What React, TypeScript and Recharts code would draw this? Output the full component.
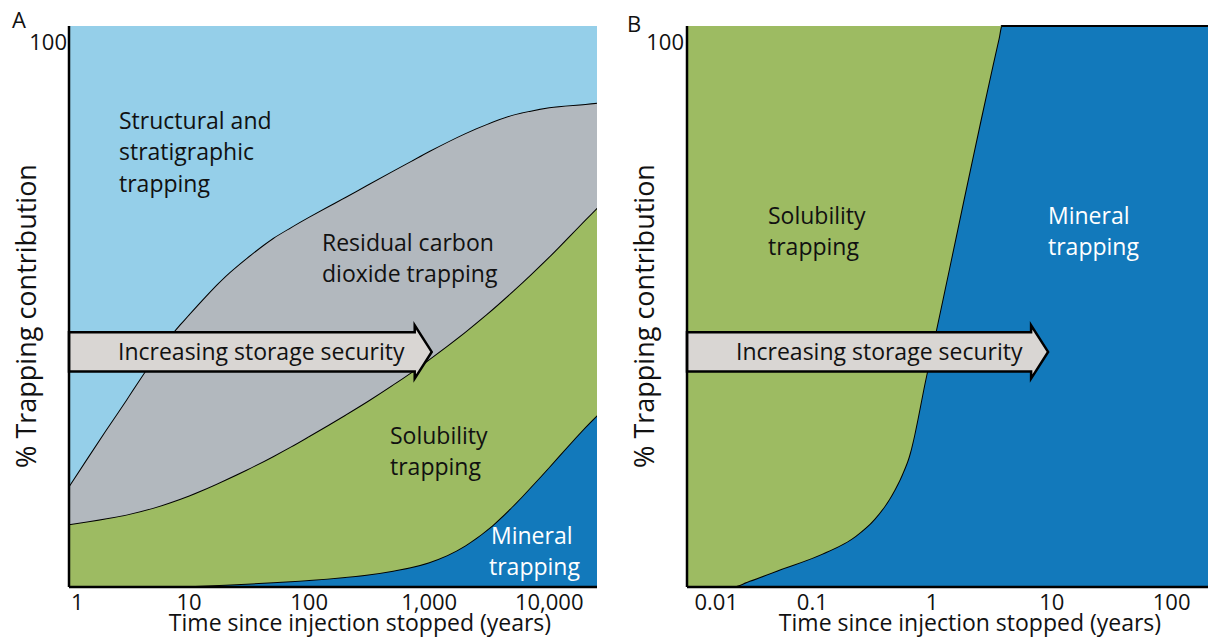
import React from 'react';
import { AreaChart, Area, XAxis, YAxis, ReferenceArea } from 'recharts';

const FONT = '"Open Sans", "Noto Sans", sans-serif';

// ---------- Panel A : time (years) and % contribution of each trapping mechanism ----------
const timeA = [1, 2, 3, 5, 7, 10, 20, 30, 50, 70, 100, 200, 300, 500, 700, 1000, 2000, 3000, 5000, 7000, 10000, 20000, 25000];
const mineralA = [0, 0, 0, 0, 0.03, 0.14, 0.41, 0.59, 0.85, 1.04, 1.26, 1.8, 2.2, 2.9, 3.5, 4.4, 7.4, 10.1, 14.5, 17.8, 21.4, 28.5, 30.6];
const solubilityA = [11.2, 12.2, 12.9, 14.1, 15.07, 16.16, 18.69, 20.31, 22.45, 23.96, 25.64, 28.9, 30.8, 33.2, 34.7, 36.2, 38.1, 38.5, 38.3, 37.9, 37.5, 37.0, 37.0];
const residualA = [6.8, 15.6, 20.5, 26.4, 29.7, 32.3, 36.3, 37.7, 38.9, 39.1, 39.1, 38.8, 38.6, 38.1, 37.7, 37.1, 35.4, 33.9, 31.4, 29.2, 26.6, 20.6, 18.7];
const structuralA = [82.0, 72.2, 66.6, 59.5, 55.2, 51.4, 44.6, 41.4, 37.8, 35.9, 34.0, 30.5, 28.4, 25.8, 24.1, 22.3, 19.1, 17.5, 15.8, 15.1, 14.5, 13.9, 13.7];
const ticksA = [1, 10, 100, 1000, 10000];
const tickLabelsA = ['1', '10', '100', '1,000', '10,000'];
const domainA: [number, number] = [1, 25000];

// ---------- Panel B ----------
const timeB = [0.009, 0.021, 0.03, 0.055, 0.12, 0.23, 0.33, 0.46, 0.56, 0.64, 0.89, 1.06, 1.27, 3.6, 3.8, 230];
const mineralB = [0, 0, 1.1, 3.2, 5.9, 9.1, 12.1, 16.4, 20.0, 23.2, 37.5, 45.0, 52.9, 97.8, 100, 100];
const solubilityB = [100, 100, 98.9, 96.8, 94.1, 90.9, 87.9, 83.6, 80.0, 76.8, 62.5, 55.0, 47.1, 2.2, 0, 0];
const ticksB = [0.01, 0.1, 1, 10, 100];
const tickLabelsB = ['0.01', '0.1', '1', '10', '100'];
const domainB: [number, number] = [0.009, 230];

// arrow annotation (in data units)
const arrowLow = 38.4;
const arrowHigh = 45.4;
const arrowTipA = 1050;
const arrowTipB = 9.3;

const C_STRUCT = '#95CFE9';
const C_RESID = '#B2B8BE';
const C_SOLUB = '#9DBB62';
const C_MINERAL = '#1279BB';
const C_ARROW = '#D9D6D3';
const INK = '#111';

const dataA = timeA.map((t, i) => ({
  t,
  mineral: mineralA[i],
  solubility: solubilityA[i],
  residual: residualA[i],
  structural: structuralA[i],
}));
const dataB = timeB.map((t, i) => ({ t, mineral: mineralB[i], solubility: solubilityB[i] }));

const makeXTick = (values: number[], labels: string[]) => (props: any) => {
  const { x, payload } = props;
  const i = values.indexOf(payload.value);
  const first = i === 0;
  return (
    <text
      x={first ? x + 2 : x}
      y={610}
      textAnchor={first ? 'start' : 'middle'}
      fontSize={22}
      fontFamily={FONT}
      fill={INK}
    >
      {labels[i]}
    </text>
  );
};

const makeYTick = (right: number) => (props: any) => {
  const { payload } = props;
  return (
    <text x={right} y={50} textAnchor="end" fontSize={22} fontFamily={FONT} fill={INK}>
      {payload.value}
    </text>
  );
};

const arrowShape = (props: any) => {
  const { x, y, width, height } = props;
  const head = 17;
  const over = 7;
  const bx = x + width - head;
  const pts = [
    [x, y],
    [bx, y],
    [bx, y - over],
    [x + width, y + height / 2],
    [bx, y + height + over],
    [bx, y + height],
    [x, y + height],
  ]
    .map((p) => p.join(','))
    .join(' ');
  return (
    <g>
      <polygon points={pts} fill={C_ARROW} stroke="#000" strokeWidth={2.5} strokeLinejoin="miter" />
      <text x={x + 49} y={y + height / 2 + 8} fontSize={23} fontFamily={FONT} fill={INK}>
        Increasing storage security
      </text>
    </g>
  );
};

const axisLine = { stroke: '#000', strokeWidth: 2.5 };

function PanelA() {
  return (
    <AreaChart width={604} height={637} data={dataA} margin={{ top: 26, right: 7, bottom: 0, left: 0 }}>
      <Area type="monotone" dataKey="mineral" stackId="s" fill={C_MINERAL} fillOpacity={1} stroke="#000" strokeWidth={2} isAnimationActive={false} dot={false} activeDot={false} />
      <Area type="monotone" dataKey="solubility" stackId="s" fill={C_SOLUB} fillOpacity={1} stroke="#000" strokeWidth={2} isAnimationActive={false} dot={false} activeDot={false} />
      <Area type="monotone" dataKey="residual" stackId="s" fill={C_RESID} fillOpacity={1} stroke="#000" strokeWidth={2} isAnimationActive={false} dot={false} activeDot={false} />
      <Area type="monotone" dataKey="structural" stackId="s" fill={C_STRUCT} fillOpacity={1} stroke="none" isAnimationActive={false} dot={false} activeDot={false} />
      <XAxis dataKey="t" type="number" scale="log" domain={domainA} allowDataOverflow ticks={ticksA} interval={0} tick={makeXTick(ticksA, tickLabelsA)} tickLine={false} axisLine={axisLine} height={50} />
      <XAxis xAxisId="top" orientation="top" dataKey="t" type="number" scale="log" domain={domainA} allowDataOverflow tick={false} tickLine={false} axisLine={axisLine} height={0} />
      <YAxis type="number" domain={[0, 100]} ticks={[100]} interval={0} tick={makeYTick(67)} tickLine={false} axisLine={axisLine} width={69} />
      <YAxis yAxisId="right" orientation="right" type="number" domain={[0, 100]} tick={false} tickLine={false} axisLine={axisLine} width={0} />
      <ReferenceArea x1={domainA[0]} x2={arrowTipA} y1={arrowLow} y2={arrowHigh} shape={arrowShape} zIndex={450} />
    </AreaChart>
  );
}

function PanelB() {
  return (
    <AreaChart width={620} height={637} data={dataB} margin={{ top: 26, right: 9, bottom: 0, left: 0 }}>
      <Area type="monotone" dataKey="mineral" stackId="s" fill={C_MINERAL} fillOpacity={1} stroke="#000" strokeWidth={2} isAnimationActive={false} dot={false} activeDot={false} />
      <Area type="monotone" dataKey="solubility" stackId="s" fill={C_SOLUB} fillOpacity={1} stroke="none" isAnimationActive={false} dot={false} activeDot={false} />
      <XAxis dataKey="t" type="number" scale="log" domain={domainB} allowDataOverflow ticks={ticksB} interval={0} tick={makeXTick(ticksB, tickLabelsB)} tickLine={false} axisLine={axisLine} height={50} />
      <XAxis xAxisId="top" orientation="top" dataKey="t" type="number" scale="log" domain={domainB} allowDataOverflow tick={false} tickLine={false} axisLine={axisLine} height={0} />
      <YAxis type="number" domain={[0, 100]} ticks={[100]} interval={0} tick={makeYTick(80)} tickLine={false} axisLine={axisLine} width={83} />
      <ReferenceArea x1={domainB[0]} x2={arrowTipB} y1={arrowLow} y2={arrowHigh} shape={arrowShape} zIndex={450} />
    </AreaChart>
  );
}

const T = (p: { x: number; y: number; children: React.ReactNode; fill?: string; size?: number }) => (
  <text x={p.x} y={p.y} fontSize={p.size || 23} fontFamily={FONT} fill={p.fill || INK}>
    {p.children}
  </text>
);

function Overlay() {
  return (
    <svg width={1208} height={637} style={{ position: 'absolute', left: 0, top: 0, pointerEvents: 'none' }}>
      <T x={12} y={28} size={22}>A</T>
      <T x={627} y={32} size={22}>B</T>
      <text transform="translate(36,316) rotate(-90)" textAnchor="middle" fontSize={27} fontFamily={FONT} fill={INK}>% Trapping contribution</text>
      <text transform="translate(654,316) rotate(-90)" textAnchor="middle" fontSize={27} fontFamily={FONT} fill={INK}>% Trapping contribution</text>
      <text x={360} y={631} textAnchor="middle" fontSize={23} fontFamily={FONT} fill={INK}>Time since injection stopped (years)</text>
      <text x={970} y={631} textAnchor="middle" fontSize={23} fontFamily={FONT} fill={INK}>Time since injection stopped (years)</text>
      {/* panel A region labels */}
      <T x={119} y={129}>Structural and</T>
      <T x={119} y={160}>stratigraphic</T>
      <T x={119} y={192}>trapping</T>
      <T x={322} y={251}>Residual carbon</T>
      <T x={322} y={282}>dioxide trapping</T>
      <T x={390} y={444}>Solubility</T>
      <T x={390} y={475}>trapping</T>
      <T x={491} y={544} fill="#fff">Mineral</T>
      <T x={489} y={575} fill="#fff">trapping</T>
      {/* panel B region labels */}
      <T x={768} y={224}>Solubility</T>
      <T x={768} y={255}>trapping</T>
      <T x={1048} y={224} fill="#fff">Mineral</T>
      <T x={1048} y={255} fill="#fff">trapping</T>
    </svg>
  );
}

export default function App() {
  return (
    <div style={{ position: 'absolute', left: 0, top: 0, width: 1208, height: 637, overflow: 'hidden', background: '#fff', fontFamily: FONT }}>
      <div style={{ position: 'absolute', left: 0, top: 0 }}>
        <PanelA />
      </div>
      <div style={{ position: 'absolute', left: 604, top: 0 }}>
        <PanelB />
      </div>
      <Overlay />
    </div>
  );
}
